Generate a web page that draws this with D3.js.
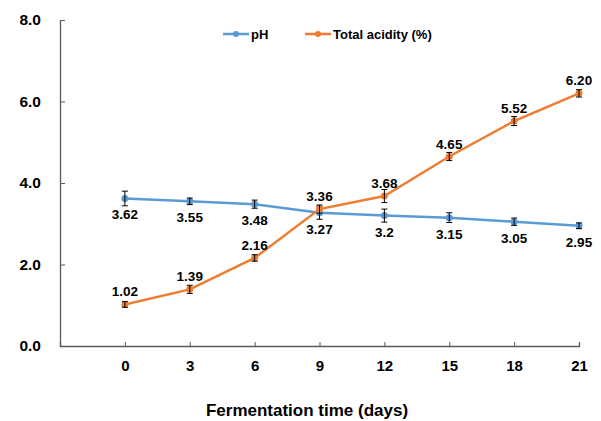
<!DOCTYPE html>
<html>
<head>
<meta charset="utf-8">
<script src="https://cdn.jsdelivr.net/npm/d3@7"></script>
<style>
  body { margin: 0; background: #fff; }
  text { font-family: "Liberation Sans", Arial, sans-serif; font-weight: bold; fill: #000; }
</style>
</head>
<body>
<svg id="chart" width="601" height="421"></svg>
<script>
var days = [0, 3, 6, 9, 12, 15, 18, 21];
var phValues = [3.62, 3.55, 3.48, 3.27, 3.2, 3.15, 3.05, 2.95];
var phErrors = [0.18, 0.08, 0.1, 0.16, 0.16, 0.12, 0.09, 0.07];
var phLabels = ["3.62", "3.55", "3.48", "3.27", "3.2", "3.15", "3.05", "2.95"];
var acidValues = [1.02, 1.39, 2.16, 3.36, 3.68, 4.65, 5.52, 6.20];
var acidErrors = [0.07, 0.1, 0.08, 0.1, 0.16, 0.1, 0.11, 0.09];
var acidLabels = ["1.02", "1.39", "2.16", "3.36", "3.68", "4.65", "5.52", "6.20"];
var yTicks = [0, 2, 4, 6, 8];

var blue = "#5b9bd5",
    orange = "#ed7d31";

var svg = d3.select("#chart");

// axes scales
var x = d3.scaleLinear().domain([-3, 21]).range([60, 579]),
    y = d3.scaleLinear().domain([0, 8]).range([346, 20]);

var xAxis = svg.append("g")
    .attr("transform", "translate(0," + y(0) + ")")
    .call(d3.axisBottom(x).tickValues(days).tickSizeInner(-4).tickSizeOuter(-4).tickPadding(14).tickFormat(d3.format("d")));
xAxis.select(".domain").attr("stroke", "#595959").attr("stroke-width", 1.3);
xAxis.selectAll(".tick line").attr("stroke", "#595959");
xAxis.selectAll("text").style("font-size", "15px");

var yAxis = svg.append("g")
    .attr("transform", "translate(" + x(-3) + ",0)")
    .call(d3.axisLeft(y).tickValues(yTicks).tickSizeInner(-5).tickSizeOuter(0).tickPadding(19).tickFormat(d3.format(".1f")));
yAxis.select(".domain").attr("stroke", "#595959").attr("stroke-width", 1.3);
yAxis.selectAll(".tick line").attr("stroke", "#595959");
yAxis.selectAll("text").style("font-size", "15.5px");

svg.append("text")
    .attr("x", 307).attr("y", 416)
    .attr("text-anchor", "middle")
    .style("font-size", "17px")
    .text("Fermentation time (days)");

function drawSeries(values, errors, labels, color, labelDy) {
  var pts = days.map(function(d, i) { return {d: d, v: values[i], e: errors[i], l: labels[i]}; });
  var g = svg.append("g");
  g.append("path")
    .datum(pts)
    .attr("fill", "none")
    .attr("stroke", color)
    .attr("stroke-width", 2.5)
    .attr("d", d3.line().x(function(p) { return x(p.d); }).y(function(p) { return y(p.v); }));
  g.selectAll("circle").data(pts).join("circle")
    .attr("cx", function(p) { return x(p.d); })
    .attr("cy", function(p) { return y(p.v); })
    .attr("r", 3.5)
    .attr("fill", color);
  var eb = g.selectAll("g.err").data(pts).join("g").attr("class", "err");
  eb.append("line")
    .attr("x1", function(p) { return x(p.d); }).attr("x2", function(p) { return x(p.d); })
    .attr("y1", function(p) { return y(p.v + p.e); }).attr("y2", function(p) { return y(p.v - p.e); })
    .attr("stroke", "#000").attr("stroke-width", 1);
  [1, -1].forEach(function(s) {
    eb.append("line")
      .attr("x1", function(p) { return x(p.d) - 3; }).attr("x2", function(p) { return x(p.d) + 3; })
      .attr("y1", function(p) { return y(p.v + s * p.e); }).attr("y2", function(p) { return y(p.v + s * p.e); })
      .attr("stroke", "#000").attr("stroke-width", 1);
  });
  g.selectAll("text").data(pts).join("text")
    .attr("x", function(p) { return x(p.d); })
    .attr("y", function(p) { return y(p.v) + labelDy; })
    .attr("text-anchor", "middle")
    .style("font-size", "13.5px")
    .text(function(p) { return p.l; });
}

drawSeries(phValues, phErrors, phLabels, blue, 21);
drawSeries(acidValues, acidErrors, acidLabels, orange, -8);

// legend
var legend = [{name: "pH", color: blue, x: 223}, {name: "Total acidity (%)", color: orange, x: 305}];
var lg = svg.selectAll("g.legend").data(legend).join("g").attr("class", "legend")
    .attr("transform", function(d) { return "translate(" + d.x + ",34)"; });
lg.append("line").attr("x1", 0).attr("x2", 26).attr("stroke", function(d) { return d.color; }).attr("stroke-width", 2.5);
lg.append("circle").attr("cx", 13).attr("r", 3).attr("fill", function(d) { return d.color; });
lg.append("text").attr("x", 28).attr("dy", "0.35em").style("font-size", "13px").text(function(d) { return d.name; });
</script>
</body>
</html>
